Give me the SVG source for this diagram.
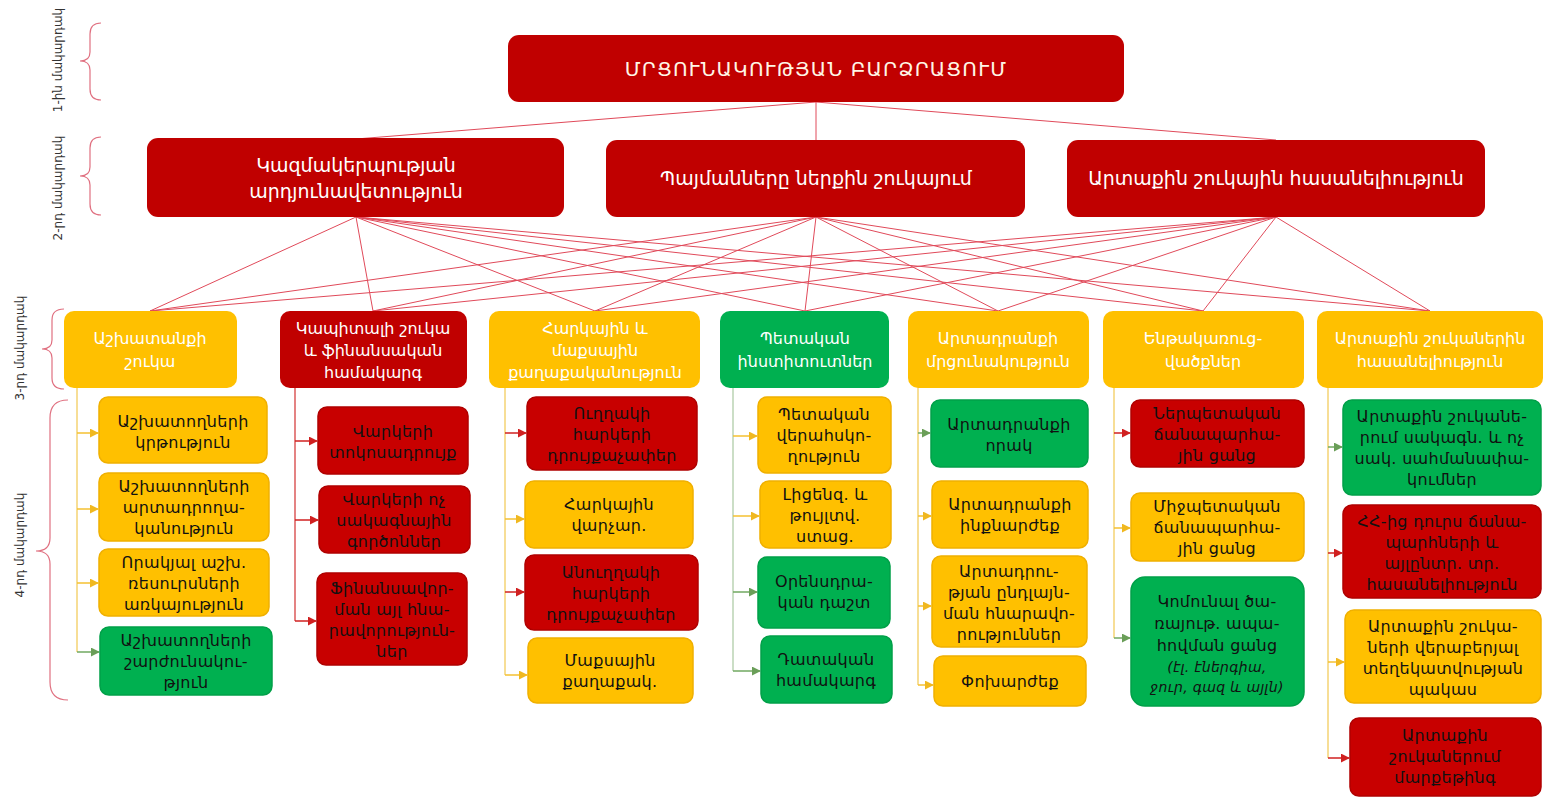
<svg xmlns="http://www.w3.org/2000/svg" width="1544" height="797" viewBox="0 0 1544 797">
<defs>
<style>
text{font-family:"DejaVu Sans","Noto Sans",sans-serif;text-anchor:middle}
.r{fill:#C00000}
.y{fill:#FFC000}
.g{fill:#00B050}
.r4{fill:#C80000;stroke:#B00000;stroke-width:1.5}
.y4{fill:#FFC000;stroke:#F0B000;stroke-width:1.5}
.g4{fill:#00B050;stroke:#00A048;stroke-width:1.5}
.t1{font-size:20px;fill:#FFF6E6;letter-spacing:1.2px}
.t2{font-size:19px;fill:#FFFFFF}
.t3{font-size:16px;fill:#FFFFFF}
.t4{font-size:16px;fill:#111111;letter-spacing:0.3px}
.lv{font-size:12px;fill:#333333}
.brace{fill:none;stroke:#E07080;stroke-width:1.2}
.con{stroke:#E04A5A;stroke-width:1;fill:none}
.vr{stroke:#D23030;stroke-width:1.2;fill:none}
.vy{stroke:#F2C850;stroke-width:1.2;fill:none}
.vg{stroke:#A8C8A0;stroke-width:1.2;fill:none}
.ar{stroke:#D02020;stroke-width:1.5;marker-end:url(#mr)}
.ay{stroke:#F5C030;stroke-width:1.5;marker-end:url(#my)}
.ag{stroke:#70A860;stroke-width:1.5;marker-end:url(#mg)}
</style>
<marker id="mr" viewBox="0 0 10 10" refX="9" refY="5" markerWidth="9" markerHeight="9" markerUnits="userSpaceOnUse" orient="auto"><path d="M0,0 L10,5 L0,10 z" fill="#D02020"/></marker>
<marker id="my" viewBox="0 0 10 10" refX="9" refY="5" markerWidth="9" markerHeight="9" markerUnits="userSpaceOnUse" orient="auto"><path d="M0,0 L10,5 L0,10 z" fill="#F0B820"/></marker>
<marker id="mg" viewBox="0 0 10 10" refX="9" refY="5" markerWidth="9" markerHeight="9" markerUnits="userSpaceOnUse" orient="auto"><path d="M0,0 L10,5 L0,10 z" fill="#6A9E58"/></marker>
</defs>
<rect width="1544" height="797" fill="#FFFFFF"/>

<g id="levels">
<text class="lv" transform="translate(62,60) rotate(-90)">1-ին մակարդակ</text>
<path class="brace" d="M101,23 Q90,23 90,34 L90,52 Q90,61 80,61 Q90,61 90,70 L90,89 Q90,100 101,100"/>
<text class="lv" transform="translate(62,188) rotate(-90)">2-րդ մակարդակ</text>
<path class="brace" d="M101,137 Q90,137 90,148 L90,167 Q90,176 80,176 Q90,176 90,185 L90,204 Q90,215 101,215"/>
<text class="lv" transform="translate(24,348) rotate(-90)">3-րդ մակարդակ</text>
<path class="brace" d="M64,309 Q52,309 52,320 L52,340 Q52,349 42,349 Q52,349 52,358 L52,378 Q52,389 64,389"/>
<text class="lv" transform="translate(24,545) rotate(-90)">4-րդ մակարդակ</text>
<path class="brace" d="M68,400 Q50,400 50,418 L50,538 Q50,551 36,551 Q50,551 50,564 L50,682 Q50,700 68,700"/>
</g>

<g id="connectors">
<line class="con" x1="816" y1="102" x2="356" y2="139"/>
<line class="con" x1="816" y1="102" x2="816" y2="140"/>
<line class="con" x1="816" y1="102" x2="1276" y2="140"/>
<g id="l2l3">
<line class="con" x1="356" y1="217" x2="150" y2="311"/><line class="con" x1="356" y1="217" x2="373" y2="311"/><line class="con" x1="356" y1="217" x2="595" y2="311"/><line class="con" x1="356" y1="217" x2="805" y2="311"/><line class="con" x1="356" y1="217" x2="998" y2="311"/><line class="con" x1="356" y1="217" x2="1203" y2="311"/><line class="con" x1="356" y1="217" x2="1430" y2="311"/>
<line class="con" x1="816" y1="217" x2="150" y2="311"/><line class="con" x1="816" y1="217" x2="373" y2="311"/><line class="con" x1="816" y1="217" x2="595" y2="311"/><line class="con" x1="816" y1="217" x2="805" y2="311"/><line class="con" x1="816" y1="217" x2="998" y2="311"/><line class="con" x1="816" y1="217" x2="1203" y2="311"/><line class="con" x1="816" y1="217" x2="1430" y2="311"/>
<line class="con" x1="1276" y1="217" x2="150" y2="311"/><line class="con" x1="1276" y1="217" x2="373" y2="311"/><line class="con" x1="1276" y1="217" x2="595" y2="311"/><line class="con" x1="1276" y1="217" x2="805" y2="311"/><line class="con" x1="1276" y1="217" x2="998" y2="311"/><line class="con" x1="1276" y1="217" x2="1203" y2="311"/><line class="con" x1="1276" y1="217" x2="1430" y2="311"/>
</g>
<g id="trees">
<line class="vy" x1="77" y1="388" x2="77" y2="652"/>
<line class="ay" x1="77" y1="433" x2="98" y2="433"/><line class="ay" x1="77" y1="509" x2="98" y2="509"/><line class="ay" x1="77" y1="583" x2="98" y2="583"/><line class="ag" x1="77" y1="652" x2="99" y2="652"/>
<line class="vr" x1="295" y1="388" x2="295" y2="621"/>
<line class="ar" x1="295" y1="441" x2="317" y2="441"/><line class="ar" x1="295" y1="520" x2="318" y2="520"/><line class="ar" x1="295" y1="621" x2="316" y2="621"/>
<line class="vy" x1="505" y1="388" x2="505" y2="675"/>
<line class="ar" x1="505" y1="433" x2="526" y2="433"/><line class="ay" x1="505" y1="519" x2="524" y2="519"/><line class="ar" x1="505" y1="592" x2="524" y2="592"/><line class="ay" x1="505" y1="675" x2="527" y2="675"/>
<line class="vg" x1="733" y1="388" x2="733" y2="671"/>
<line class="ay" x1="733" y1="436" x2="757" y2="436"/><line class="ay" x1="733" y1="516" x2="759" y2="516"/><line class="ag" x1="733" y1="592" x2="757" y2="592"/><line class="ag" x1="733" y1="671" x2="760" y2="671"/>
<line class="vy" x1="918" y1="388" x2="918" y2="685"/>
<line class="ag" x1="918" y1="433" x2="930" y2="433"/><line class="ay" x1="918" y1="516" x2="931" y2="516"/><line class="ay" x1="918" y1="606" x2="931" y2="606"/><line class="ay" x1="918" y1="685" x2="933" y2="685"/>
<line class="vy" x1="1114" y1="388" x2="1114" y2="638"/>
<line class="ar" x1="1114" y1="433" x2="1130" y2="433"/><line class="ay" x1="1114" y1="528" x2="1130" y2="528"/><line class="ag" x1="1114" y1="638" x2="1130" y2="638"/>
<line class="vy" x1="1328" y1="388" x2="1328" y2="758"/>
<line class="ag" x1="1328" y1="447" x2="1342" y2="447"/><line class="ar" x1="1328" y1="553" x2="1342" y2="553"/><line class="ay" x1="1328" y1="662" x2="1344" y2="662"/><line class="ar" x1="1328" y1="758" x2="1349" y2="758"/>
</g>
</g>

<g id="n-top"><rect class="r" x="508" y="35" width="616" height="67" rx="11"/><text class="t1" x="816" y="76">ՄՐՑՈՒՆԱԿՈՒԹՅԱՆ ԲԱՐՁՐԱՑՈՒՄ</text></g>

<g id="n-l2-1"><rect class="r" x="147" y="138" width="417" height="79" rx="11"/><text class="t2" x="356"><tspan x="356" y="172">Կազմակերպության</tspan><tspan x="356" y="198">արդյունավետություն</tspan></text></g>
<g id="n-l2-2"><rect class="r" x="606" y="140" width="419" height="77" rx="11"/><text class="t2" x="816" y="185">Պայմանները ներքին շուկայում</text></g>
<g id="n-l2-3"><rect class="r" x="1067" y="140" width="418" height="77" rx="11"/><text class="t2" x="1276" y="185">Արտաքին շուկային հասանելիություն</text></g>

<g id="n-l3-1"><rect class="y" x="64" y="311" width="173" height="77" rx="10"/><text class="t3"><tspan x="150" y="344">Աշխատանքի</tspan><tspan x="150" y="367">շուկա</tspan></text></g>
<g id="n-l3-2"><rect class="r" x="280" y="311" width="187" height="77" rx="10"/><text class="t3"><tspan x="373" y="334">Կապիտալի շուկա</tspan><tspan x="373" y="356">և ֆինանսական</tspan><tspan x="373" y="378">համակարգ</tspan></text></g>
<g id="n-l3-3"><rect class="y" x="489" y="311" width="211" height="77" rx="10"/><text class="t3"><tspan x="595" y="334">Հարկային և</tspan><tspan x="595" y="356">մաքսային</tspan><tspan x="595" y="378">քաղաքականություն</tspan></text></g>
<g id="n-l3-4"><rect class="g" x="720" y="311" width="169" height="77" rx="10"/><text class="t3"><tspan x="805" y="344">Պետական</tspan><tspan x="805" y="367">ինստիտուտներ</tspan></text></g>
<g id="n-l3-5"><rect class="y" x="908" y="311" width="181" height="77" rx="10"/><text class="t3"><tspan x="998" y="344">Արտադրանքի</tspan><tspan x="998" y="367">մրցունակություն</tspan></text></g>
<g id="n-l3-6"><rect class="y" x="1103" y="311" width="201" height="77" rx="10"/><text class="t3"><tspan x="1203" y="344">Ենթակառուց-</tspan><tspan x="1203" y="367">վածքներ</tspan></text></g>
<g id="n-l3-7"><rect class="y" x="1317" y="311" width="226" height="77" rx="10"/><text class="t3"><tspan x="1430" y="344">Արտաքին շուկաներին</tspan><tspan x="1430" y="367">հասանելիություն</tspan></text></g>

<g id="n-c1-1"><rect class="y4" x="99" y="397" width="168" height="66" rx="9"/><text class="t4"><tspan x="183" y="427">Աշխատողների</tspan><tspan x="183" y="448">կրթություն</tspan></text></g>
<g id="n-c1-2"><rect class="y4" x="99" y="473" width="170" height="68" rx="9"/><text class="t4"><tspan x="184" y="492">Աշխատողների</tspan><tspan x="184" y="513">արտադրողա-</tspan><tspan x="184" y="534">կանություն</tspan></text></g>
<g id="n-c1-3"><rect class="y4" x="99" y="549" width="170" height="67" rx="9"/><text class="t4"><tspan x="184" y="568">Որակյալ աշխ.</tspan><tspan x="184" y="589">ռեսուրսների</tspan><tspan x="184" y="610">առկայություն</tspan></text></g>
<g id="n-c1-4"><rect class="g4" x="100" y="627" width="172" height="68" rx="9"/><text class="t4"><tspan x="186" y="646">Աշխատողների</tspan><tspan x="186" y="667">շարժունակու-</tspan><tspan x="186" y="688">թյուն</tspan></text></g>

<g id="n-c2-1"><rect class="r4" x="318" y="407" width="150" height="67" rx="9"/><text class="t4"><tspan x="393" y="437">Վարկերի</tspan><tspan x="393" y="458">տոկոսադրույք</tspan></text></g>
<g id="n-c2-2"><rect class="r4" x="319" y="486" width="151" height="67" rx="9"/><text class="t4"><tspan x="394" y="505">Վարկերի ոչ</tspan><tspan x="394" y="526">սակագնային</tspan><tspan x="394" y="547">գործոններ</tspan></text></g>
<g id="n-c2-3"><rect class="r4" x="317" y="573" width="150" height="92" rx="9"/><text class="t4"><tspan x="392" y="594">Ֆինանսավոր-</tspan><tspan x="392" y="615">ման այլ հնա-</tspan><tspan x="392" y="636">րավորություն-</tspan><tspan x="392" y="657">ներ</tspan></text></g>

<g id="n-c3-1"><rect class="r4" x="527" y="397" width="170" height="73" rx="9"/><text class="t4"><tspan x="612" y="419">Ուղղակի</tspan><tspan x="612" y="440">հարկերի</tspan><tspan x="612" y="461">դրույքաչափեր</tspan></text></g>
<g id="n-c3-2"><rect class="y4" x="525" y="481" width="168" height="67" rx="9"/><text class="t4"><tspan x="609" y="510">Հարկային</tspan><tspan x="609" y="531">վարչար.</tspan></text></g>
<g id="n-c3-3"><rect class="r4" x="525" y="555" width="173" height="75" rx="9"/><text class="t4"><tspan x="611" y="578">Անուղղակի</tspan><tspan x="611" y="599">հարկերի</tspan><tspan x="611" y="620">դրույքաչափեր</tspan></text></g>
<g id="n-c3-4"><rect class="y4" x="528" y="638" width="165" height="65" rx="9"/><text class="t4"><tspan x="610" y="666">Մաքսային</tspan><tspan x="610" y="687">քաղաքակ.</tspan></text></g>

<g id="n-c4-1"><rect class="y4" x="758" y="397" width="133" height="76" rx="9"/><text class="t4"><tspan x="824" y="420">Պետական</tspan><tspan x="824" y="441">վերահսկո-</tspan><tspan x="824" y="462">ղություն</tspan></text></g>
<g id="n-c4-2"><rect class="y4" x="760" y="481" width="131" height="67" rx="9"/><text class="t4"><tspan x="825" y="500">Լիցենզ. և</tspan><tspan x="825" y="521">թույլտվ.</tspan><tspan x="825" y="542">ստաց.</tspan></text></g>
<g id="n-c4-3"><rect class="g4" x="758" y="557" width="132" height="71" rx="9"/><text class="t4"><tspan x="824" y="587">Օրենսդրա-</tspan><tspan x="824" y="608">կան դաշտ</tspan></text></g>
<g id="n-c4-4"><rect class="g4" x="761" y="636" width="131" height="67" rx="9"/><text class="t4"><tspan x="826" y="665">Դատական</tspan><tspan x="826" y="686">համակարգ</tspan></text></g>

<g id="n-c5-1"><rect class="g4" x="931" y="400" width="157" height="67" rx="9"/><text class="t4"><tspan x="1009" y="430">Արտադրանքի</tspan><tspan x="1009" y="451">որակ</tspan></text></g>
<g id="n-c5-2"><rect class="y4" x="932" y="481" width="156" height="67" rx="9"/><text class="t4"><tspan x="1010" y="510">Արտադրանքի</tspan><tspan x="1010" y="531">ինքնարժեք</tspan></text></g>
<g id="n-c5-3"><rect class="y4" x="932" y="556" width="155" height="91" rx="9"/><text class="t4"><tspan x="1009" y="577">Արտադրու-</tspan><tspan x="1009" y="598">թյան ընդլայն-</tspan><tspan x="1009" y="619">ման հնարավո-</tspan><tspan x="1009" y="640">րություններ</tspan></text></g>
<g id="n-c5-4"><rect class="y4" x="934" y="656" width="152" height="50" rx="9"/><text class="t4" x="1010" y="687">Փոխարժեք</text></g>

<g id="n-c6-1"><rect class="r4" x="1131" y="400" width="173" height="67" rx="9"/><text class="t4"><tspan x="1217" y="419">Ներպետական</tspan><tspan x="1217" y="440">ճանապարհա-</tspan><tspan x="1217" y="461">յին ցանց</tspan></text></g>
<g id="n-c6-2"><rect class="y4" x="1131" y="493" width="173" height="68" rx="9"/><text class="t4"><tspan x="1217" y="512">Միջպետական</tspan><tspan x="1217" y="533">ճանապարհա-</tspan><tspan x="1217" y="554">յին ցանց</tspan></text></g>
<g id="n-c6-3"><rect class="g4" x="1131" y="577" width="173" height="129" rx="14"/><text class="t4"><tspan x="1217" y="607">Կոմունալ ծա-</tspan><tspan x="1217" y="629">ռայութ. ապա-</tspan><tspan x="1217" y="651">հովման ցանց</tspan><tspan x="1217" y="672" font-style="italic" font-size="14px">(էլ. էներգիա,</tspan><tspan x="1217" y="692" font-style="italic" font-size="14px">ջուր, գազ և այլն)</tspan></text></g>

<g id="n-c7-1"><rect class="g4" x="1343" y="400" width="198" height="95" rx="9"/><text class="t4"><tspan x="1442" y="422">Արտաքին շուկանե-</tspan><tspan x="1442" y="443">րում սակագն. և ոչ</tspan><tspan x="1442" y="464">սակ.  սահմանափա-</tspan><tspan x="1442" y="485">կումներ</tspan></text></g>
<g id="n-c7-2"><rect class="r4" x="1343" y="505" width="198" height="93" rx="9"/><text class="t4"><tspan x="1442" y="527">ՀՀ-ից դուրս ճանա-</tspan><tspan x="1442" y="548">պարհների և</tspan><tspan x="1442" y="569">այլընտր. տր.</tspan><tspan x="1442" y="590">հասանելիություն</tspan></text></g>
<g id="n-c7-3"><rect class="y4" x="1345" y="610" width="196" height="93" rx="9"/><text class="t4"><tspan x="1443" y="632">Արտաքին շուկա-</tspan><tspan x="1443" y="653">ների վերաբերյալ</tspan><tspan x="1443" y="674">տեղեկատվության</tspan><tspan x="1443" y="695">պակաս</tspan></text></g>
<g id="n-c7-4"><rect class="r4" x="1350" y="718" width="191" height="78" rx="9"/><text class="t4"><tspan x="1445" y="741">Արտաքին</tspan><tspan x="1445" y="762">շուկաներում</tspan><tspan x="1445" y="783">մարքեթինգ</tspan></text></g>
</svg>
